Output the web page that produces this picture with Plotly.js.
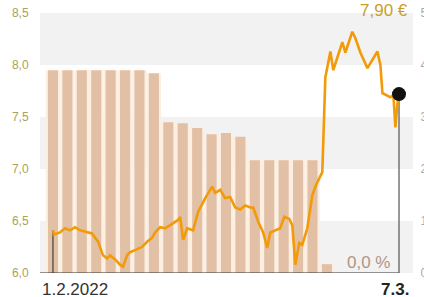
<!DOCTYPE html>
<html>
<head>
<meta charset="utf-8">
<script src="https://cdn.plot.ly/plotly-3.0.1.min.js"></script>
<style>html,body{margin:0;padding:0;background:#fff;}#chart{width:424px;height:297px;}</style>
</head>
<body>
<div id="chart"></div>
<script>
// Trading-day index (0 = 1.2.2022, 24 = 7.3.2022)
const barDays = [0,1,2,3,4,5,6,7,8,9,10,11,12,13,14,15,16,17,18,19];
const barValues = [3.90,3.90,3.90,3.90,3.90,3.90,3.90,3.84,2.90,2.88,2.79,2.67,2.69,2.62,2.17,2.17,2.17,2.17,2.17,0.17];

const lineT = [0,0.07,0.49,0.83,1.18,1.53,1.88,2.36,2.71,2.92,3.13,3.47,3.75,3.96,4.31,4.65,4.86,5.14,5.35,5.69,6.18,6.53,6.88,7.08,7.43,7.78,8.13,8.47,8.68,8.82,9.03,9.31,9.72,10.07,10.56,11.04,11.25,11.60,11.94,12.29,12.64,12.99,13.33,13.68,13.89,14.24,14.58,14.86,15.07,15.42,15.76,16.04,16.39,16.60,16.81,17.08,17.29,17.64,17.99,18.26,18.54,18.68,18.89,19.24,19.44,19.72,20.07,20.28,20.76,20.97,21.32,21.81,22.50,22.71,22.85,23.40,23.61,23.75,23.89,24];
const linePrice = [6.41,6.37,6.39,6.43,6.41,6.44,6.41,6.39,6.38,6.34,6.30,6.17,6.14,6.17,6.13,6.08,6.06,6.17,6.20,6.22,6.25,6.30,6.34,6.39,6.44,6.43,6.46,6.49,6.51,6.54,6.32,6.43,6.41,6.59,6.72,6.83,6.77,6.80,6.72,6.73,6.63,6.61,6.65,6.63,6.63,6.49,6.39,6.24,6.39,6.41,6.43,6.54,6.52,6.46,6.08,6.29,6.27,6.43,6.75,6.85,6.94,6.97,7.88,8.13,7.95,8.08,8.22,8.12,8.32,8.26,8.12,7.97,8.13,8.00,7.73,7.69,7.71,7.40,7.63,7.72];

const leftTicks = [6.0,6.5,7.0,7.5,8.0,8.5];
const leftTickText = ["6,0","6,5","7,0","7,5","8,0","8,5"];
const rightTicks = [0,1,2,3,4,5];
const rightTickText = ["0","1","2","3","4","5"];
const bands = [[6.0,6.5],[7.0,7.5],[8.0,8.5]];

const startLabel = "1.2.2022";
const endLabel = "7.3.";
const priceLabel = "7,90 €";
const yieldLabel = "0,0 %";

const lastT = lineT[lineT.length-1], lastP = linePrice[linePrice.length-1];
const firstT = lineT[0], firstP = linePrice[0];

const FONT = 'Liberation Sans, Arial, sans-serif';

const traces = [
  {type:'bar', x:barDays, y:barValues, yaxis:'y', width:1.0,
   marker:{color:'#fcefe2'}, hoverinfo:'skip', showlegend:false},
  {type:'bar', x:barDays, y:barValues, yaxis:'y', width:0.7,
   marker:{color:'#e2c0a6'}, hoverinfo:'skip', showlegend:false},
  {type:'scatter', mode:'lines', x:[firstT,firstT], y:[6.0,firstP], yaxis:'y2',
   line:{color:'#222', width:1}, showlegend:false},
  {type:'scatter', mode:'lines', x:[lastT,lastT], y:[6.0,lastP], yaxis:'y2',
   line:{color:'#555', width:1.2}, showlegend:false},
  {type:'scatter', mode:'lines', x:lineT, y:linePrice, yaxis:'y2',
   line:{color:'#f29a08', width:2.6}, showlegend:false},
  {type:'scatter', mode:'markers', x:[lastT], y:[lastP], yaxis:'y2',
   marker:{color:'#111', size:14}, showlegend:false}
];

const shapes = bands.map(b => ({type:'rect', xref:'paper', yref:'y2', x0:0, x1:1, y0:b[0], y1:b[1],
  fillcolor:'#f2f2f2', line:{width:0}, layer:'below'}));
shapes.push({type:'line', xref:'x', yref:'y2', x0:-1.1, x1:lastT, y0:6.0, y1:6.0,
  line:{color:'#333', width:1}});

const layout = {
  width:424, height:297,
  margin:{l:40, r:11, t:13, b:24, pad:0},
  paper_bgcolor:'#fff', plot_bgcolor:'rgba(0,0,0,0)',
  barmode:'overlay',
  showlegend:false,
  xaxis:{range:[-0.9,24.97], showgrid:false, zeroline:false, showline:false,
         showticklabels:false, ticks:'', fixedrange:true},
  yaxis:{range:[0,5], side:'right', tickvals:rightTicks, ticktext:rightTickText,
         showgrid:false, zeroline:false, showline:false,
         ticks:'outside', ticklen:4, tickcolor:'rgba(0,0,0,0)',
         tickfont:{family:FONT, size:12, color:'#aaaaaa'}},
  yaxis2:{range:[6.0,8.5], overlaying:'y', side:'left', tickvals:leftTicks, ticktext:leftTickText,
         showgrid:false, zeroline:false, showline:false,
         ticks:'outside', ticklen:8, tickcolor:'rgba(0,0,0,0)',
         tickfont:{family:FONT, size:12, color:'#aaa25a'}},
  shapes:shapes,
  annotations:[
    {xref:'paper', yref:'paper', x:0, y:-16/260, xanchor:'left', yanchor:'middle',
     text:startLabel, showarrow:false, font:{family:FONT, size:17, color:'#333'}},
    {xref:'paper', yref:'paper', x:(411-40)/373, y:-16/260, xanchor:'right', yanchor:'middle',
     text:'<b>'+endLabel+'</b>', showarrow:false, font:{family:FONT, size:17, color:'#222'}},
    {xref:'paper', yref:'paper', x:(410-40)/373, y:(273-10)/260, xanchor:'right', yanchor:'middle',
     text:priceLabel, showarrow:false, font:{family:FONT, size:17, color:'#c9a026'}},
    {xref:'paper', yref:'paper', x:(392-40)/373, y:(273-262)/260, xanchor:'right', yanchor:'middle',
     text:yieldLabel, showarrow:false, font:{family:FONT, size:17, color:'#b09585'}}
  ]
};

Plotly.newPlot('chart', traces, layout, {displayModeBar:false, staticPlot:true});
</script>
</body>
</html>
